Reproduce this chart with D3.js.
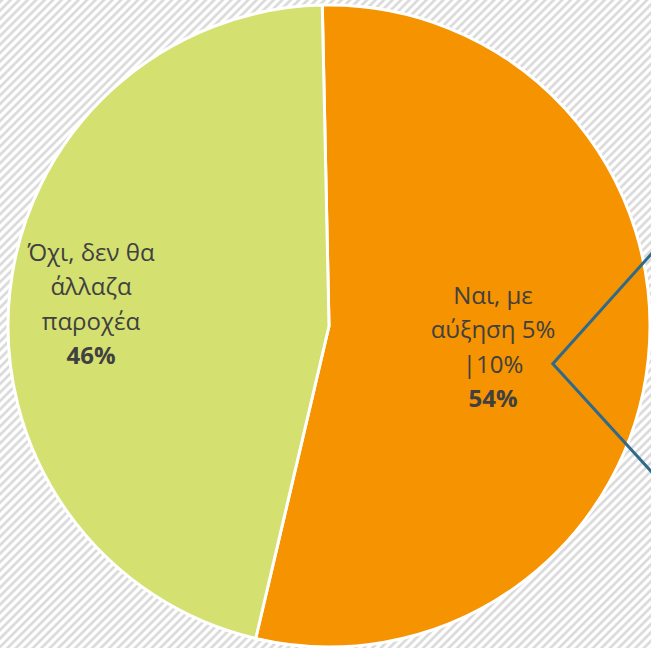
<!DOCTYPE html>
<html>
<head>
<meta charset="utf-8">
<script src="https://cdn.jsdelivr.net/npm/d3@7"></script>
<style>
  html, body { margin: 0; padding: 0; background: #fff; }
  svg { display: block; }
</style>
</head>
<body>
<svg id="chart" width="651" height="648"></svg>
<script>
// ---- data ----
const categories = ["Ναι, με αύξηση 5% |10%", "Όχι, δεν θα άλλαζα παροχέα"];
const labelLines = [["Ναι, με", "αύξηση 5%", "|10%"], ["Όχι, δεν θα", "άλλαζα", "παροχέα"]];
const values = [54, 46];
const colors = ["#F59300", "#D4E070"];

const W = 651, H = 648;
const cx = 329, cy = 326, R = 321;
const startDeg = -1.2;

const svg = d3.select("#chart");

// hatched background
const defs = svg.append("defs");
const pat = defs.append("pattern")
  .attr("id", "hatch").attr("patternUnits", "userSpaceOnUse")
  .attr("width", 6).attr("height", 6)
  .attr("patternTransform", "rotate(45)");
pat.append("rect").attr("width", 6).attr("height", 6).attr("fill", "#ffffff");
pat.append("line").attr("x1", 1.5).attr("y1", 0).attr("x2", 1.5).attr("y2", 6)
  .attr("stroke", "#d6d6d6").attr("stroke-width", 2.4);
svg.append("rect").attr("width", W).attr("height", H).attr("fill", "url(#hatch)");

const pie = d3.pie().sort(null).value(d => d)
  .startAngle(startDeg * Math.PI / 180)
  .endAngle(startDeg * Math.PI / 180 + 2 * Math.PI);
const arcs = pie(values);
const arc = d3.arc().innerRadius(0).outerRadius(R);

const g = svg.append("g").attr("transform", `translate(${cx},${cy})`);
g.selectAll("path.slice").data(arcs).join("path")
  .attr("class", "slice")
  .attr("d", arc)
  .attr("fill", (d, i) => colors[i])
  .attr("stroke", "#ffffff").attr("stroke-width", 3).attr("stroke-linejoin", "round");

// connector lines (pie-of-pie series lines) -- go off canvas to secondary pie
const deg = Math.PI / 180;
const vertex = d3.pointRadial(99.6 * deg, 227);
const upper = d3.pointRadial(73.6 * deg, 365);
const lower = d3.pointRadial(116.7 * deg, 392);
g.append("path")
  .attr("d", d3.line()([upper, vertex, lower]))
  .attr("fill", "none").attr("stroke", "#2E6A8C").attr("stroke-width", 3);

// labels
const labelPos = [[493 - cx, 295 - cy], [91 - cx, 252 - cy]];
const lineH = 34.5;
arcs.forEach((a, i) => {
  const t = g.append("text")
    .attr("text-anchor", "middle")
    .attr("font-family", "'Open Sans', 'Noto Sans', sans-serif")
    .attr("font-size", 24)
    .attr("fill", "#404040");
  const lines = labelLines[i];
  lines.forEach((ln, j) => {
    t.append("tspan").attr("x", labelPos[i][0]).attr("y", labelPos[i][1] + j * lineH + 8.5).text(ln);
  });
  t.append("tspan").attr("x", labelPos[i][0]).attr("y", labelPos[i][1] + lines.length * lineH + 8.5)
    .attr("font-weight", "bold").text(values[i] + "%");
});
</script>
</body>
</html>
